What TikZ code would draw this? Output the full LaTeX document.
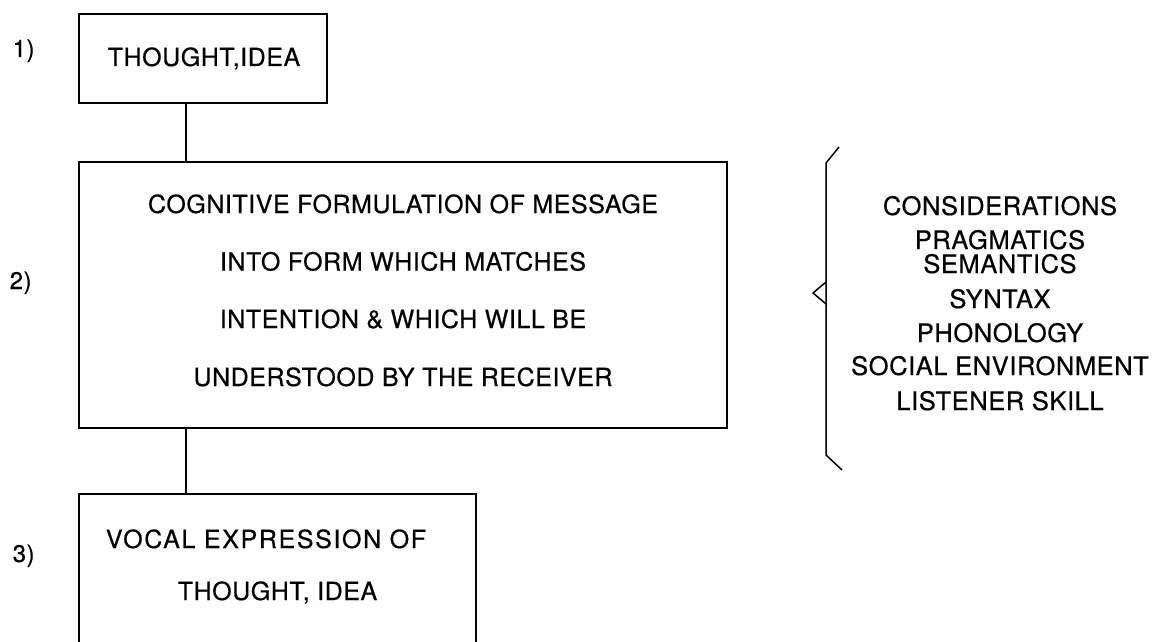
\documentclass[tikz,border=0pt]{standalone}
\usepackage{fontspec}
\setmainfont{TeX Gyre Heros}[LetterSpace=2.2, FakeBold=0.5]
\begin{document}
\begin{tikzpicture}[x=1pt,y=-1pt,
  line width=1.5pt,
  stage/.style={draw, line width=1.5pt, inner sep=0pt},
  txt/.style={inner sep=0pt, anchor=base, font=\fontsize{25}{30}\selectfont},
  lst/.style={inner sep=0pt, anchor=base, font=\fontsize{25.5}{30}\selectfont},
  num/.style={inner sep=0pt, anchor=base west, font=\fontsize{24}{28}\selectfont}]
\useasboundingbox (0,0) rectangle (1160,642);
\clip (0,0) rectangle (1160,642);

% stage boxes
\node[stage, minimum width=248pt, minimum height=89pt] (box1) at (203,58.5) {};
\node[stage, minimum width=648pt, minimum height=266pt] (box2) at (403,295) {};
\node[stage, minimum width=397pt, minimum height=170pt] (box3) at (277.5,579) {};

% stage numbers
\node[num] (n1) at (12,57) {1)};
\node[num] (n2) at (9,289) {2)};
\node[num] (n3) at (12,562) {3)};

% box texts
\node[txt] (t1) at (204,66) {THOUGHT,IDEA};
\node[txt] (t2a) at (403,213) {COGNITIVE FORMULATION OF MESSAGE};
\node[txt] (t2b) at (403,270.5) {INTO FORM WHICH MATCHES};
\node[txt] (t2c) at (403,328) {INTENTION \& WHICH WILL BE};
\node[txt] (t2d) at (403,386) {UNDERSTOOD BY THE RECEIVER};
\node[txt, font=\fontsize{25}{30}\selectfont\addfontfeatures{LetterSpace=6.5}] (t3a) at (266,548) {VOCAL EXPRESSION OF};
\node[txt] (t3b) at (277.5,600) {THOUGHT, IDEA};

% connectors between stages
\coordinate (stem) at (186,0);
\draw (stem |- box1.south) -- (stem |- box2.north);
\draw (stem |- box2.south) -- (stem |- box3.north);

% brace with its point
\coordinate (bt) at (839,147);
\coordinate (bb) at (842,470);
\draw[line join=round] (bt) -- (826,163) -- (826,455) -- (bb);
\draw[line join=round] (826,282) -- (813,293) -- (826,304);

% considerations list
\node[lst] (c1) at (1000,215) {CONSIDERATIONS};
\node[lst] (c2) at (1000,249) {PRAGMATICS};
\node[lst] (c3) at (1000,273) {SEMANTICS};
\node[lst] (c4) at (1000,308) {SYNTAX};
\node[lst] (c5) at (1000,342) {PHONOLOGY};
\node[lst] (c6) at (1000,375) {SOCIAL ENVIRONMENT};
\node[lst] (c7) at (1000,410) {LISTENER SKILL};
\end{tikzpicture}
\end{document}
